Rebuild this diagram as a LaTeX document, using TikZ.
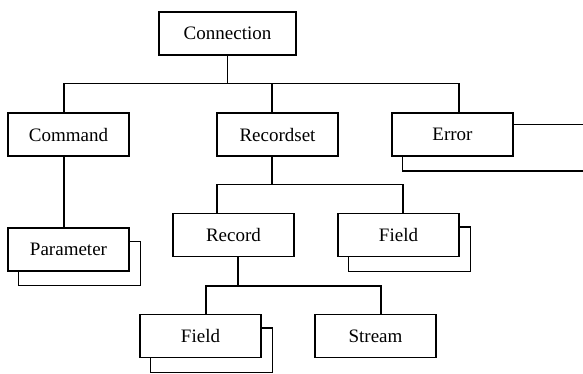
\documentclass[tikz,border=0pt]{standalone}
\usepackage{fontspec}
\setmainfont{Liberation Serif}
\usetikzlibrary{backgrounds}
\begin{document}
\begin{tikzpicture}[x=1pt,y=-1pt,line width=1.2pt,
  box/.style={draw,fill=white,minimum width=121pt,minimum height=43pt,inner sep=0pt,
    line width=1.2pt,font=\rmfamily\fontsize{19}{22}\selectfont},
  shadowbox/.style={draw,fill=white,line width=1.2pt},
  conn/.style={draw,line width=1.2pt}]
\clip (0,0) rectangle (583,373);
\useasboundingbox (0,0) rectangle (583,373);
\node[box,minimum width=137pt] (conn) at (227.5,33.5) {Connection};
\node[box] (cmd) at (68.5,134.5) {Command};
\node[box] (rset) at (277.5,134.5) {Recordset};
\node[box] (err) at (452.5,134.5) {Error};
\node[box] (param) at (68.5,249.5) {Parameter};
\node[box] (rec) at (233.5,235) {Record};
\node[box] (fld1) at (398.5,235) {Field};
\node[box] (fld2) at (200.5,336) {Field};
\node[box] (strm) at (375.5,336) {Stream};
% bus coordinates
\coordinate (b1) at (64,83.5);
\coordinate (b2) at (459,83.5);
\coordinate (b3) at (272,83.5);
\coordinate (r1) at (217,184.5);
\coordinate (r2) at (403,184.5);
\coordinate (r3) at (272,184.5);
\coordinate (s1) at (206,286);
\coordinate (s2) at (381,286);
\coordinate (s3) at (238,286);
\coordinate (eend) at (600,171);
\begin{scope}[on background layer]
\draw[shadowbox] ([shift={(11,14)}]param.north west) rectangle ([shift={(11,14)}]param.south east);
\draw[shadowbox] ([shift={(11,14)}]fld1.north west) rectangle ([shift={(11,14)}]fld1.south east);
\draw[shadowbox] ([shift={(11,14)}]fld2.north west) rectangle ([shift={(11,14)}]fld2.south east);
\draw[shadowbox] ([shift={(11,12)}]err.north west) rectangle (eend);
\end{scope}
\draw[conn] (conn.south) -- (conn.south |- b1);
\draw[conn] (cmd.north -| b1) -- (b1) -- (b2) -- (err.north -| b2);
\draw[conn] (b3) -- (rset.north -| b3);
\draw[conn] (cmd.south -| b1) -- (param.north -| b1);
\draw[conn] (rset.south -| r3) -- (r3);
\draw[conn] (rec.north -| r1) -- (r1) -- (r2) -- (fld1.north -| r2);
\draw[conn] (rec.south -| s3) -- (s3);
\draw[conn] (fld2.north -| s1) -- (s1) -- (s2) -- (strm.north -| s2);
\end{tikzpicture}
\end{document}
